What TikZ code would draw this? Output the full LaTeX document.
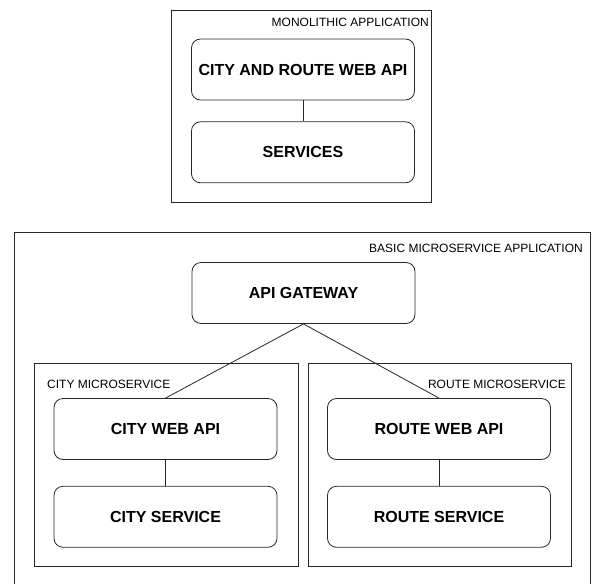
\documentclass[tikz,border=0pt]{standalone}
\usepackage{fontspec}
\setmainfont{Liberation Sans}
\usetikzlibrary{positioning}
\tikzset{
  svcbox/.style={draw=black!85, line width=0.8pt, rounded corners=9pt, minimum width=223pt, minimum height=61pt, inner sep=0pt, font=\fontsize{16}{19}\selectfont\bfseries},
  groupbox/.style={draw=black!85, line width=0.8pt, inner sep=0pt},
  grouplabel/.style={inner sep=0pt, font=\fontsize{12}{14}\selectfont},
  link/.style={draw=black!85, line width=0.8pt}
}

\begin{document}
\begin{tikzpicture}[x=1pt,y=-1pt]
                    \useasboundingbox (0,0) rectangle (595,584);
                    % monolith
                    \node[groupbox, minimum width=260pt, minimum height=192pt] (mono) at (301,106) {};
                    \node[grouplabel, anchor=east] (monolabel) at (429,22) {MONOLITHIC APPLICATION};
                    \node[svcbox] (cityroute) at (303,69.5) {CITY AND ROUTE WEB API};
                    \node[svcbox, below=21pt of cityroute] (services) {SERVICES};
                    \draw[link] (cityroute) -- (services);
                    % microservices
                    \coordinate (bl) at (14,584);
                    \coordinate (tl) at (14,232);
                    \coordinate (tr) at (590,232);
                    \coordinate (br) at (590,584);
                    \draw[link] (bl) -- (tl) -- (tr) -- (br);
                    \node[grouplabel, anchor=east] (basiclabel) at (583,248) {BASIC MICROSERVICE APPLICATION};
                    \node[svcbox] (gateway) at (303.5,293) {API GATEWAY};
                    \node[groupbox, minimum width=264pt, minimum height=203pt] (cityms) at (166,464.5) {};
                    \node[groupbox, minimum width=263pt, minimum height=203pt] (routems) at (439.5,464.5) {};
                    \node[grouplabel, anchor=west] (citylabel) at (47,384) {CITY MICROSERVICE};
                    \node[grouplabel, anchor=east] (routelabel) at (566,384) {ROUTE MICROSERVICE};
                    \node[svcbox] (cityapi) at (165.5,429) {CITY WEB API};
                    \node[svcbox, below=26pt of cityapi] (citysrv) {CITY SERVICE};
                    \node[svcbox] (routeapi) at (439,429) {ROUTE WEB API};
                    \node[svcbox, below=26pt of routeapi] (routesrv) {ROUTE SERVICE};
                    \draw[link] (cityapi) -- (citysrv);
                    \draw[link] (routeapi) -- (routesrv);
                    \foreach \m in {cityapi,routeapi}{
                    \draw[link] (gateway.south) -- (\m.north);
                    }
\end{tikzpicture}
\end{document}
